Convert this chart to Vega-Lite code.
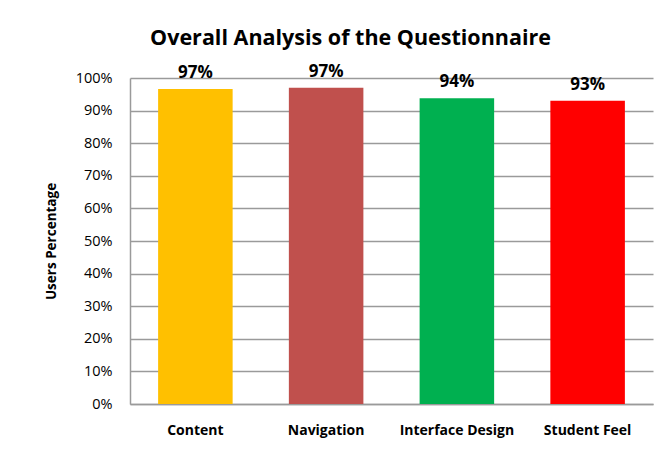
{
  "$schema": "https://vega.github.io/schema/vega-lite/v6.json",
  "width": 523,
  "height": 326,
  "autosize": {"type": "none"},
  "padding": {"left": 130, "top": 78, "right": 7, "bottom": 51},
  "background": "white",
  "title": {
    "text": "Overall Analysis of the Questionnaire",
    "font": "Open Sans",
    "fontSize": 21.5,
    "fontWeight": "bold",
    "color": "#000000",
    "anchor": "middle",
    "frame": "group",
    "dx": -41,
    "offset": 13
  },
  "config": {
    "view": {"stroke": null},
    "font": "Open Sans"
  },
  "data": {
    "values": [
      {"category": "Content", "value": 0.966, "color": "#FFC000"},
      {"category": "Navigation", "value": 0.970, "color": "#C0504D"},
      {"category": "Interface Design", "value": 0.938, "color": "#00B050"},
      {"category": "Student Feel", "value": 0.930, "color": "#FF0000"}
    ]
  },
  "encoding": {
    "x": {
      "field": "category",
      "type": "nominal",
      "sort": null,
      "scale": {"paddingInner": 0.43, "paddingOuter": 0.215},
      "axis": {
        "title": null,
        "labelAngle": 0,
        "labelFont": "Open Sans",
        "labelFontSize": 14,
        "labelFontWeight": "bold",
        "labelColor": "#000000",
        "labelPadding": 19,
        "ticks": false,
        "domainColor": "#9a9a9a",
        "domainWidth": 1.5
      }
    },
    "y": {
      "field": "value",
      "type": "quantitative",
      "scale": {"domain": [0, 1], "nice": false},
      "axis": {
        "title": "Users Percentage",
        "titleFont": "Open Sans",
        "titleFontSize": 13.5,
        "titleFontWeight": "bold",
        "titleColor": "#000000",
        "titlePadding": 17,
        "values": [0, 0.1, 0.2, 0.3, 0.4, 0.5, 0.6, 0.7, 0.8, 0.9, 1],
        "format": ".0%",
        "labelFont": "Open Sans",
        "labelFontSize": 14.5,
        "labelColor": "#000000",
        "labelPadding": 18,
        "ticks": false,
        "grid": true,
        "gridColor": "#9a9a9a",
        "gridWidth": 1.5,
        "domainColor": "#9a9a9a",
        "domainWidth": 1.5
      }
    }
  },
  "layer": [
    {
      "mark": {"type": "bar"},
      "encoding": {
        "color": {"field": "color", "type": "nominal", "scale": null, "legend": null}
      }
    },
    {
      "mark": {
        "type": "text",
        "baseline": "bottom",
        "dy": -7,
        "font": "Open Sans",
        "fontSize": 17,
        "fontWeight": "bold",
        "color": "#000000"
      },
      "encoding": {
        "text": {"field": "value", "type": "quantitative", "format": ".0%"}
      }
    }
  ]
}
